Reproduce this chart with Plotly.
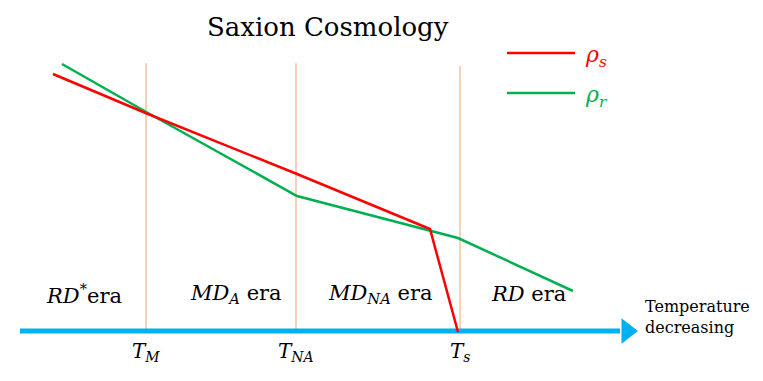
import plotly.graph_objects as go

# schematic coordinates (canvas units, y grows downward)
rho_s_x = [53, 148, 297, 430, 458]
rho_s_y = [74, 114, 174, 229, 332]
rho_r_x = [62, 148, 297, 458, 573]
rho_r_y = [64, 113, 196, 238, 291]

temp_x = [146, 296, 460]
temp_labels = ["<i>T<sub>M</sub></i>", "<i>T<sub>NA</sub></i>", "<i>T<sub>s</sub></i>"]
temp_top = [63, 63, 66]

era_x = [84, 236, 380, 528]
era_labels = ["<i>RD</i><sup>*</sup>era", "<i>MD<sub>A</sub></i> era",
              "<i>MD<sub>NA</sub></i> era", "<i>RD</i> era"]

SERIF = "DejaVu Serif"
OFF = 8  # page body margin

fig = go.Figure()

# era boundaries
for x, top in zip(temp_x, temp_top):
    fig.add_trace(go.Scatter(x=[x, x], y=[top, 331], mode="lines",
                             line=dict(color="#F4B183", width=1.2), hoverinfo="skip"))

# temperature axis with arrow
fig.add_trace(go.Scatter(x=[20, 620], y=[331, 331], mode="lines",
                         line=dict(color="#00B0F0", width=5), hoverinfo="skip"))
fig.add_trace(go.Scatter(x=[627], y=[331], mode="markers",
                         marker=dict(symbol="triangle-right", size=22, color="#00B0F0"),
                         hoverinfo="skip"))

fig.add_trace(go.Scatter(x=rho_r_x, y=rho_r_y, mode="lines",
                         line=dict(color="#00B050", width=2.5)))
fig.add_trace(go.Scatter(x=rho_s_x, y=rho_s_y, mode="lines",
                         line=dict(color="#FF0000", width=2.5)))

# legend
fig.add_trace(go.Scatter(x=[507, 575], y=[53, 53], mode="lines",
                         line=dict(color="#FF0000", width=2.5)))
fig.add_trace(go.Scatter(x=[507, 575], y=[93, 93], mode="lines",
                         line=dict(color="#00B050", width=2.5)))
fig.add_annotation(x=583, y=56, text="<i>ρ<sub>s</sub></i>", showarrow=False, xanchor="left",
                   font=dict(family=SERIF, size=22, color="#FF0000"))
fig.add_annotation(x=583, y=96, text="<i>ρ<sub>r</sub></i>", showarrow=False, xanchor="left",
                   font=dict(family=SERIF, size=22, color="#00B050"))

for x, t in zip(temp_x, temp_labels):
    fig.add_annotation(x=x, y=352, text=t, showarrow=False,
                       font=dict(family=SERIF, size=20, color="black"))
for x, t in zip(era_x, era_labels):
    fig.add_annotation(x=x, y=294, text=t, showarrow=False,
                       font=dict(family=SERIF, size=21, color="black"))

fig.add_annotation(x=643, y=317, text="Temperature<br>decreasing", showarrow=False,
                   xanchor="left", align="left",
                   font=dict(family=SERIF, size=16, color="black"))
fig.add_annotation(x=328, y=27, text="Saxion Cosmology", showarrow=False,
                   font=dict(family=SERIF, size=26, color="black"))

fig.update_layout(width=763, height=381, margin=dict(l=0, r=0, t=0, b=0),
                  showlegend=False, plot_bgcolor="white", paper_bgcolor="white",
                  xaxis=dict(range=[OFF, 763 + OFF], visible=False, fixedrange=True),
                  yaxis=dict(range=[381 + OFF, OFF], visible=False, fixedrange=True))
fig.write_html("out.html")
